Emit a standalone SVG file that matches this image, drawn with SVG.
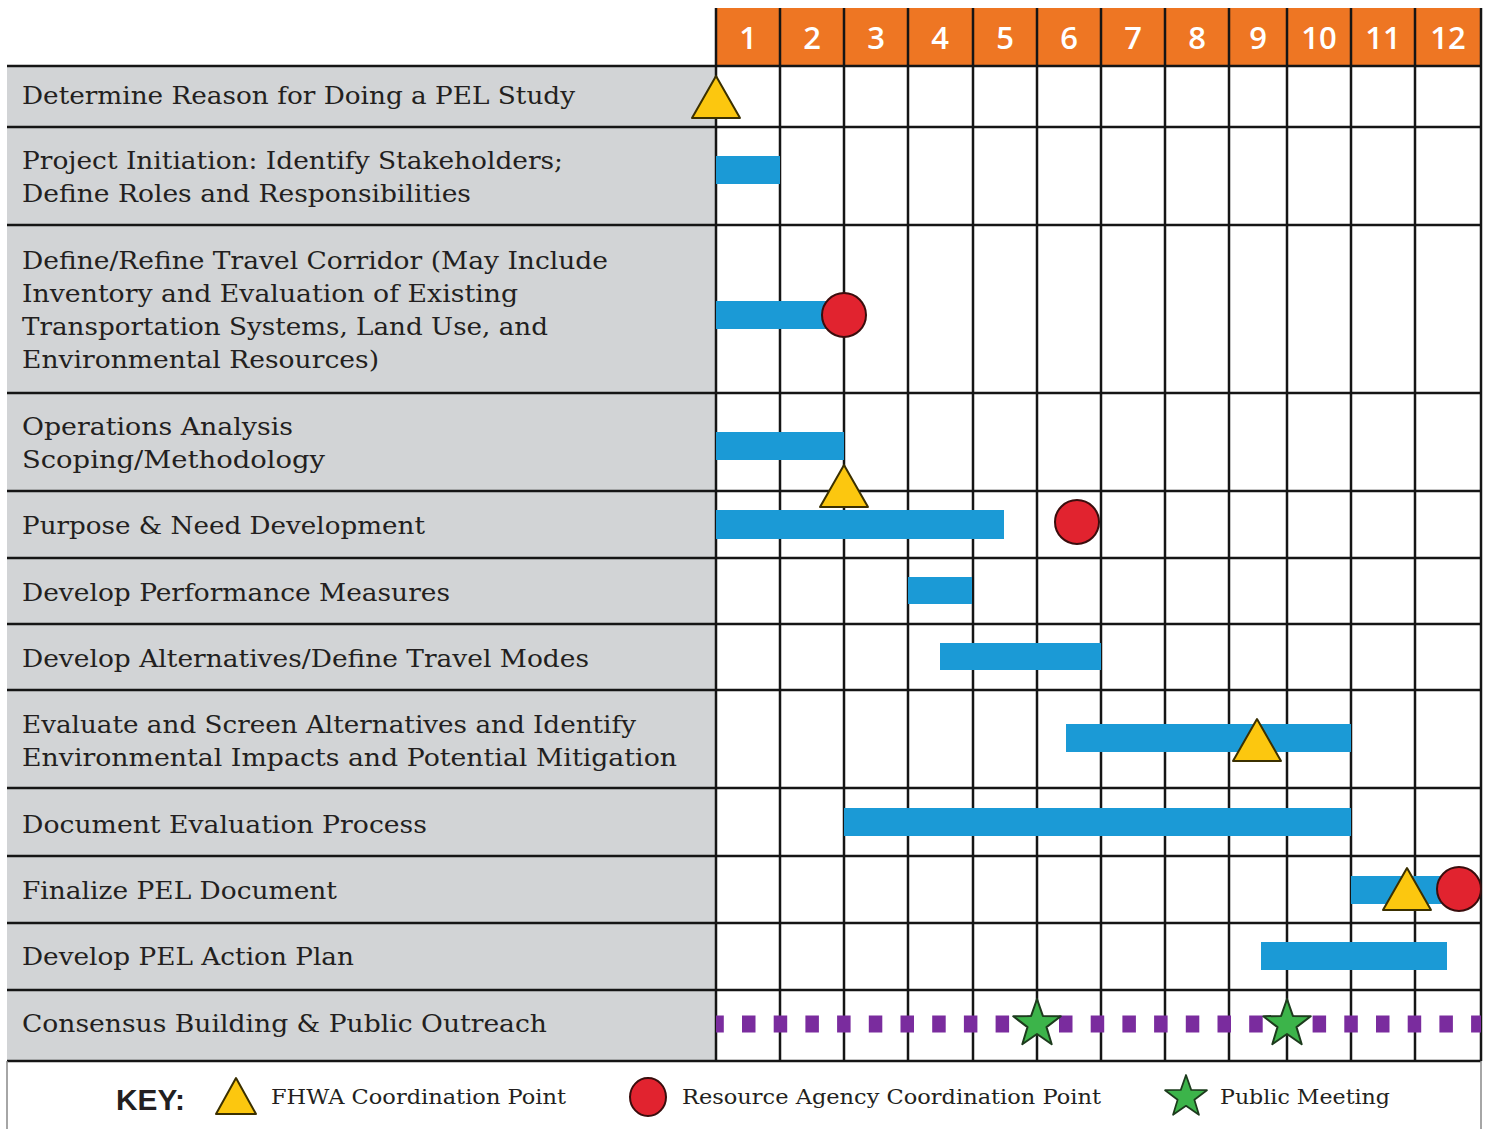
<svg xmlns="http://www.w3.org/2000/svg" width="1489" height="1129" viewBox="0 0 1489 1129">
<style>
.lbl{font-family:"DejaVu Serif","Liberation Serif",serif;font-size:25px;fill:#231f20;}
.key{font-family:"DejaVu Serif","Liberation Serif",serif;font-size:21px;fill:#231f20;}
.num{font-family:"Open Sans","Liberation Sans",sans-serif;font-size:31px;font-weight:600;fill:#ffffff;text-anchor:middle;}
.bar{fill:#1b9ad6;}
.grid line{stroke:#151515;stroke-width:2.5;}
.tri{fill:#fcc70f;stroke:#3b3000;stroke-width:2;stroke-linejoin:round;}
.dot{fill:#e1232f;stroke:#3a0d0d;stroke-width:2;}
.star{fill:#3cb44a;stroke:#1d3b1d;stroke-width:2;stroke-linejoin:round;}
</style>
<defs>
<polygon id="tri" class="tri" points="0,-21 24,21 -24,21"/>
<polygon id="star" class="star" points="0,-25 5.88,-8.09 23.78,-7.73 9.51,3.09 14.69,20.23 0,10 -14.69,20.23 -9.51,3.09 -23.78,-7.73 -5.88,-8.09"/>
</defs>
<rect width="1489" height="1129" fill="#ffffff"/>
<g id="label-column">
<rect x="7" y="66" width="709" height="995" fill="#d2d4d6"/>
</g>
<g id="header">
<rect x="716" y="8" width="765" height="58" fill="#ee7623"/>
<text class="num" x="748" y="49">1</text>
<text class="num" x="812" y="49">2</text>
<text class="num" x="876" y="49">3</text>
<text class="num" x="940" y="49">4</text>
<text class="num" x="1005" y="49">5</text>
<text class="num" x="1069" y="49">6</text>
<text class="num" x="1133" y="49">7</text>
<text class="num" x="1197" y="49">8</text>
<text class="num" x="1258" y="49">9</text>
<text class="num" x="1319" y="49">10</text>
<text class="num" x="1383" y="49">11</text>
<text class="num" x="1448" y="49">12</text>
</g>
<g id="grid" class="grid">
<line x1="716" y1="8" x2="716" y2="1061"/>
<line x1="780" y1="8" x2="780" y2="1061"/>
<line x1="844" y1="8" x2="844" y2="1061"/>
<line x1="908" y1="8" x2="908" y2="1061"/>
<line x1="973" y1="8" x2="973" y2="1061"/>
<line x1="1037" y1="8" x2="1037" y2="1061"/>
<line x1="1101" y1="8" x2="1101" y2="1061"/>
<line x1="1165" y1="8" x2="1165" y2="1061"/>
<line x1="1229" y1="8" x2="1229" y2="1061"/>
<line x1="1287" y1="8" x2="1287" y2="1061"/>
<line x1="1351" y1="8" x2="1351" y2="1061"/>
<line x1="1415" y1="8" x2="1415" y2="1061"/>
<line x1="1481" y1="8" x2="1481" y2="1061"/>
<line x1="7" y1="66" x2="1481" y2="66"/>
<line x1="7" y1="127" x2="1481" y2="127"/>
<line x1="7" y1="225" x2="1481" y2="225"/>
<line x1="7" y1="393" x2="1481" y2="393"/>
<line x1="7" y1="491" x2="1481" y2="491"/>
<line x1="7" y1="558" x2="1481" y2="558"/>
<line x1="7" y1="624" x2="1481" y2="624"/>
<line x1="7" y1="690" x2="1481" y2="690"/>
<line x1="7" y1="788" x2="1481" y2="788"/>
<line x1="7" y1="856" x2="1481" y2="856"/>
<line x1="7" y1="923" x2="1481" y2="923"/>
<line x1="7" y1="990" x2="1481" y2="990"/>
<line x1="7" y1="1061" x2="1481" y2="1061"/>
<line x1="7" y1="1061" x2="7" y2="1129" style="stroke:#888;stroke-width:1.5"/>
<line x1="1481" y1="1061" x2="1481" y2="1129" style="stroke:#888;stroke-width:1.5"/>
</g>
<g id="task-1">
<text class="lbl" x="22" y="104" textLength="553" lengthAdjust="spacingAndGlyphs">Determine Reason for Doing a PEL Study</text>
<use href="#tri" x="716" y="97"/>
</g>
<g id="task-2">
<text class="lbl" x="22" y="169" textLength="541" lengthAdjust="spacingAndGlyphs">Project Initiation: Identify Stakeholders;</text>
<text class="lbl" x="22" y="202" textLength="449" lengthAdjust="spacingAndGlyphs">Define Roles and Responsibilities</text>
<rect class="bar" x="716" y="156" width="64" height="28"/>
</g>
<g id="task-3">
<text class="lbl" x="22" y="269" textLength="586" lengthAdjust="spacingAndGlyphs">Define/Refine Travel Corridor (May Include</text>
<text class="lbl" x="22" y="302" textLength="496" lengthAdjust="spacingAndGlyphs">Inventory and Evaluation of Existing</text>
<text class="lbl" x="22" y="335" textLength="526" lengthAdjust="spacingAndGlyphs">Transportation Systems, Land Use, and</text>
<text class="lbl" x="22" y="368" textLength="357" lengthAdjust="spacingAndGlyphs">Environmental Resources)</text>
<rect class="bar" x="716" y="301" width="120" height="28"/>
<circle class="dot" cx="844" cy="315" r="22"/>
</g>
<g id="task-4">
<text class="lbl" x="22" y="435" textLength="271" lengthAdjust="spacingAndGlyphs">Operations Analysis</text>
<text class="lbl" x="22" y="468" textLength="303" lengthAdjust="spacingAndGlyphs">Scoping/Methodology</text>
<rect class="bar" x="716" y="432" width="128" height="28"/>
<use href="#tri" x="844" y="486"/>
</g>
<g id="task-5">
<text class="lbl" x="22" y="534" textLength="403" lengthAdjust="spacingAndGlyphs">Purpose &amp; Need Development</text>
<rect class="bar" x="716" y="510" width="288" height="29"/>
<circle class="dot" cx="1077" cy="522" r="22"/>
</g>
<g id="task-6">
<text class="lbl" x="22" y="601" textLength="428" lengthAdjust="spacingAndGlyphs">Develop Performance Measures</text>
<rect class="bar" x="908" y="577" width="64" height="27"/>
</g>
<g id="task-7">
<text class="lbl" x="22" y="667" textLength="567" lengthAdjust="spacingAndGlyphs">Develop Alternatives/Define Travel Modes</text>
<rect class="bar" x="940" y="643" width="161" height="27"/>
</g>
<g id="task-8">
<text class="lbl" x="22" y="733" textLength="614" lengthAdjust="spacingAndGlyphs">Evaluate and Screen Alternatives and Identify</text>
<text class="lbl" x="22" y="766" textLength="655" lengthAdjust="spacingAndGlyphs">Environmental Impacts and Potential Mitigation</text>
<rect class="bar" x="1066" y="724" width="285" height="28"/>
<use href="#tri" x="1257" y="740"/>
</g>
<g id="task-9">
<text class="lbl" x="22" y="833" textLength="405" lengthAdjust="spacingAndGlyphs">Document Evaluation Process</text>
<rect class="bar" x="844" y="808" width="507" height="28"/>
</g>
<g id="task-10">
<text class="lbl" x="22" y="899" textLength="315" lengthAdjust="spacingAndGlyphs">Finalize PEL Document</text>
<rect class="bar" x="1351" y="876" width="94" height="28"/>
<use href="#tri" x="1407" y="889"/>
<circle class="dot" cx="1459" cy="889" r="22"/>
</g>
<g id="task-11">
<text class="lbl" x="22" y="965" textLength="332" lengthAdjust="spacingAndGlyphs">Develop PEL Action Plan</text>
<rect class="bar" x="1261" y="942" width="186" height="28"/>
</g>
<g id="task-12">
<text class="lbl" x="22" y="1032" textLength="525" lengthAdjust="spacingAndGlyphs">Consensus Building &amp; Public Outreach</text>
<line x1="716" y1="1024" x2="1481" y2="1024" stroke="#7a2c9e" stroke-width="17" stroke-dasharray="13.5 18.2" stroke-dashoffset="5.7"/>
<use href="#star" x="1037" y="1024"/>
<use href="#star" x="1287" y="1024"/>
</g>
<g id="key">
<text x="116" y="1110" font-family="Liberation Sans, Arial, sans-serif" font-weight="bold" font-size="30" fill="#231f20" textLength="69" lengthAdjust="spacingAndGlyphs">KEY:</text>
<polygon class="tri" points="236,1078 256,1114 216,1114"/>
<text class="key" x="271" y="1104" textLength="295" lengthAdjust="spacingAndGlyphs">FHWA Coordination Point</text>
<ellipse class="dot" cx="648" cy="1097" rx="18" ry="19"/>
<text class="key" x="682" y="1104" textLength="419" lengthAdjust="spacingAndGlyphs">Resource Agency Coordination Point</text>
<use href="#star" transform="translate(1186,1097) scale(0.88)"/>
<text class="key" x="1220" y="1104" textLength="170" lengthAdjust="spacingAndGlyphs">Public Meeting</text>
</g>
</svg>
